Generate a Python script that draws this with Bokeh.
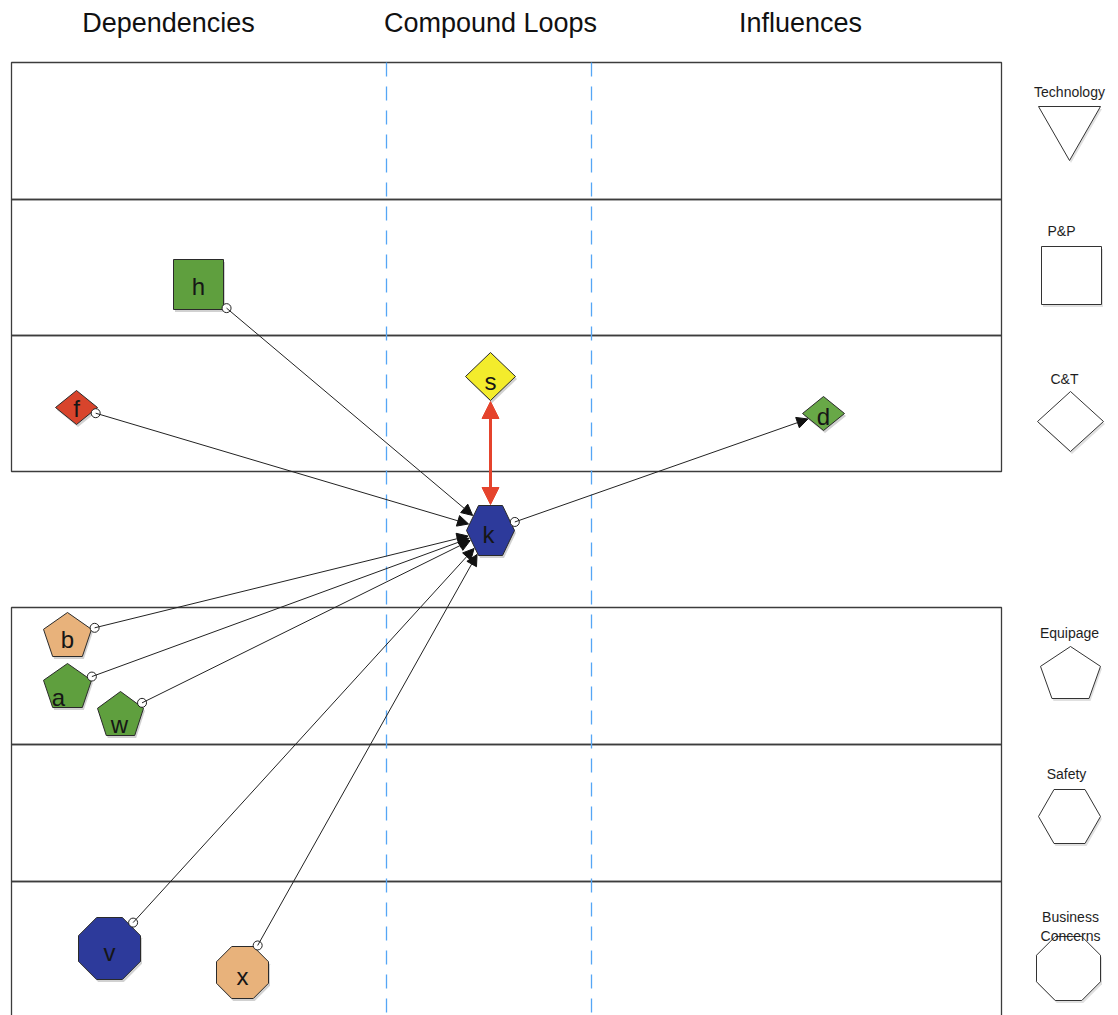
import math
from bokeh.plotting import figure
from bokeh.models import Range1d, ColumnDataSource, Arrow, NormalHead
from bokeh.embed import file_html
from bokeh.resources import INLINE
from bokeh.core.properties import value

# ---------------- data ----------------
header_text = ["Dependencies", "Compound Loops", "Influences"]
header_x = [168, 490, 800]
header_y = [22, 22, 22]

lane_top = [62, 199, 335, 607, 744, 881]
lane_bottom = [199, 335, 471, 744, 881, 1030]
lane_left = [11, 11, 11, 11, 11, 11]
lane_right = [1001, 1001, 1001, 1001, 1001, 1001]

divider_x = [386, 591]
divider_top = [62, 62]
divider_bottom = [1030, 1030]

legend_kind = ["triangle", "square", "diamond", "pentagon", "hexagon", "octagon"]
legend_cx = [1069, 1071, 1070, 1070, 1069, 1068]
legend_cy = [133, 275, 421, 672, 816, 968]
legend_hw = [31, 30, 33, 30, 31, 32]
legend_hh = [27, 29, 30, 26, 27, 32]

legend_text = ["Technology", "P&P", "C&T", "Equipage", "Safety", "Business", "Concerns"]
legend_text_x = [1069, 1061, 1064, 1069, 1066, 1070, 1070]
legend_text_y = [91, 230, 378, 632, 773, 916, 935]

GREEN = "#5f9f3e"
GREEN2 = "#68a847"
RED = "#d8442c"
YELLOW = "#f3ec2c"
BLUE = "#2d3a9b"
TAN = "#e8b27b"

node_name = ["h", "f", "s", "d", "k", "b", "a", "w", "v", "x"]
node_kind = ["square", "diamond", "diamond", "diamond", "hexagon",
             "pentagon", "pentagon", "pentagon", "octagon", "octagon"]
node_cx = [198, 76, 490, 823, 490, 67, 67, 120, 109, 242]
node_cy = [284, 407, 376, 413, 530, 634, 685, 713, 948, 972]
node_hw = [25, 21, 25, 21, 24, 24, 24, 23, 31, 26]
node_hh = [25, 17, 24, 17, 25, 22, 22, 22, 31, 26]
node_color = [GREEN, RED, YELLOW, GREEN2, BLUE, TAN, GREEN, GREEN, BLUE, TAN]
label_dx = [0, 0, 0, 0, -2, 0, -9, -1, 0, 0]
label_dy = [2, 1, 5, 3, 4, 5, 12, 11, 4, 4]

edge_src = ["h", "f", "b", "a", "w", "v", "x", "k"]
edge_dst = ["k", "k", "k", "k", "k", "k", "k", "d"]

loop_a = "s"
loop_b = "k"

# ---------------- geometry helpers ----------------
ANGLES = {
    "triangle": [90, 210, 330],
    "square": [45, 135, 225, 315],
    "diamond": [0, 90, 180, 270],
    "pentagon": [-90 + 72 * i for i in range(5)],
    "hexagon": [60 * i for i in range(6)],
    "octagon": [22.5 + 45 * i for i in range(8)],
}


def shape(kind, cx, cy, hw, hh):
    ux = [math.cos(math.radians(a)) for a in ANGLES[kind]]
    uy = [math.sin(math.radians(a)) for a in ANGLES[kind]]
    xmid = (max(ux) + min(ux)) / 2
    ymid = (max(uy) + min(uy)) / 2
    xh = (max(ux) - min(ux)) / 2
    yh = (max(uy) - min(uy)) / 2
    xs = [cx + (u - xmid) / xh * hw for u in ux]
    ys = [cy + (v - ymid) / yh * hh for v in uy]
    return xs, ys


def cross(ax, ay, bx, by):
    return ax * by - ay * bx


def ray_hit(xs, ys, cx, cy, ux, uy):
    best = None
    n = len(xs)
    for i in range(n):
        x1, y1 = xs[i], ys[i]
        x2, y2 = xs[(i + 1) % n], ys[(i + 1) % n]
        ex, ey = x2 - x1, y2 - y1
        wx, wy = x1 - cx, y1 - cy
        den = cross(ux, uy, ex, ey)
        if abs(den) < 1e-9:
            continue
        t = cross(wx, wy, ex, ey) / den
        s = cross(wx, wy, ux, uy) / den
        if t > 0 and -1e-6 <= s <= 1 + 1e-6:
            best = t if best is None else min(best, t)
    return best or 0


idx = {n: i for i, n in enumerate(node_name)}
node_poly = [shape(node_kind[i], node_cx[i], node_cy[i], node_hw[i], node_hh[i])
             for i in range(len(node_name))]

# ---------------- figure ----------------
W, H = 1118, 1015
p = figure(width=W, height=H, x_range=Range1d(0, W), y_range=Range1d(H, 0),
           output_backend="svg", toolbar_location=None, min_border=0,
           x_axis_location=None, y_axis_location=None, outline_line_color=None,
           background_fill_color="white", border_fill_color="white")
p.xgrid.visible = False
p.ygrid.visible = False

FONT = value("Liberation Sans")

# headers
p.text(x=header_x, y=header_y, text=header_text, text_align="center",
       text_baseline="middle", text_font=FONT, text_font_size="27px",
       text_color="#111111")

# lanes
p.quad(left=lane_left, right=lane_right, top=lane_top, bottom=lane_bottom,
       fill_color=None, line_color="#3c3c3c", line_width=1.3)

# dividers
p.segment(x0=divider_x, x1=divider_x, y0=divider_top, y1=divider_bottom,
          line_color="#55a6f5", line_width=1.3, line_dash="14 10")

# legend shapes
leg_polys = [shape(legend_kind[i], legend_cx[i], legend_cy[i], legend_hw[i], legend_hh[i])
             for i in range(len(legend_kind))]
p.patches(xs=[[x + 1.5 for x in pp[0]] for pp in leg_polys],
          ys=[[y + 2.5 for y in pp[1]] for pp in leg_polys],
          fill_color="#000000", fill_alpha=0.12, line_color=None)
p.patches(xs=[pp[0] for pp in leg_polys], ys=[pp[1] for pp in leg_polys],
          fill_color="white", line_color="#333333", line_width=1)
p.text(x=legend_text_x, y=legend_text_y, text=legend_text, text_align="center",
       text_baseline="middle", text_font=FONT, text_font_size="14px",
       text_color="#1e1e1e")

# edges
xs0, ys0, xs1, ys1 = [], [], [], []
for s_name, d_name in zip(edge_src, edge_dst):
    i, j = idx[s_name], idx[d_name]
    dx = node_cx[j] - node_cx[i]
    dy = node_cy[j] - node_cy[i]
    L = math.hypot(dx, dy)
    ux, uy = dx / L, dy / L
    ts = ray_hit(*node_poly[i], node_cx[i], node_cy[i], ux, uy) + 4
    sx, sy = node_cx[i] + ux * ts, node_cy[i] + uy * ts
    dx2, dy2 = node_cx[j] - sx, node_cy[j] - sy
    L2 = math.hypot(dx2, dy2)
    vx, vy = dx2 / L2, dy2 / L2
    tt = ray_hit(*node_poly[j], node_cx[j], node_cy[j], -vx, -vy) + 1
    xs0.append(sx)
    ys0.append(sy)
    xs1.append(node_cx[j] - vx * tt)
    ys1.append(node_cy[j] - vy * tt)

esrc = ColumnDataSource(dict(x0=xs0, y0=ys0, x1=xs1, y1=ys1))
p.add_layout(Arrow(source=esrc, x_start="x0", y_start="y0", x_end="x1", y_end="y1",
                   line_color="#222222", line_width=1,
                   end=NormalHead(size=11, fill_color="#111111", line_color="#111111")))

# loop arrow
ia, ib = idx[loop_a], idx[loop_b]
ldx = node_cx[ib] - node_cx[ia]
ldy = node_cy[ib] - node_cy[ia]
LL = math.hypot(ldx, ldy)
lux, luy = ldx / LL, ldy / LL
ta = ray_hit(*node_poly[ia], node_cx[ia], node_cy[ia], lux, luy) + 1
tb = ray_hit(*node_poly[ib], node_cx[ib], node_cy[ib], -lux, -luy) + 1
p.add_layout(Arrow(x_start=node_cx[ia] + lux * ta, y_start=node_cy[ia] + luy * ta,
                   x_end=node_cx[ib] - lux * tb, y_end=node_cy[ib] - luy * tb,
                   line_color="#e5432c", line_width=3,
                   start=NormalHead(size=17, fill_color="#e5432c", line_color="#e5432c"),
                   end=NormalHead(size=17, fill_color="#e5432c", line_color="#e5432c")))

# node shadows + nodes
p.patches(xs=[[x + 1.5 for x in pp[0]] for pp in node_poly],
          ys=[[y + 2.5 for y in pp[1]] for pp in node_poly],
          fill_color="#000000", fill_alpha=0.18, line_color=None)
p.patches(xs=[pp[0] for pp in node_poly], ys=[pp[1] for pp in node_poly],
          fill_color=node_color, line_color="#2a2a2a", line_width=1)

# port circles
p.scatter(x=xs0, y=ys0, size=9, marker="circle", fill_color="white",
          line_color="#222222", line_width=1)

# node labels
p.text(x=[node_cx[i] + label_dx[i] for i in range(len(node_name))],
       y=[node_cy[i] + label_dy[i] for i in range(len(node_name))],
       text=node_name, text_align="center", text_baseline="middle",
       text_font=FONT, text_font_size="24px", text_color="#161616")

open("out.html", "w").write(file_html(p, INLINE))
